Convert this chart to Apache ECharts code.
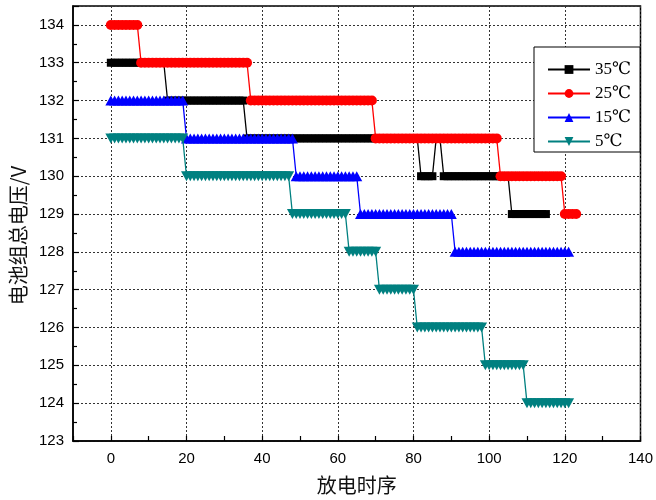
<!DOCTYPE html>
<html>
<head>
<meta charset="utf-8">
<title>电池组总电压</title>
<script src="https://cdn.jsdelivr.net/npm/echarts@6/dist/echarts.min.js"></script>
<style>
  html, body { margin: 0; padding: 0; background: #fff; }
  #chart { width: 656px; height: 500px; }
</style>
</head>
<body>
<div id="chart"></div>
<script>
// Pack voltage (V) at each discharge step, one value per step starting at step 0.
const volt35 = [
  // steps 0-14
  133,133,133,133,133,133,133,133,133,133,
  133,133,133,133,133,
  // steps 15-35
  132,132,132,132,132,132,132,132,132,132,
  132,132,132,132,132,132,132,132,132,132,
  132,
  // steps 36-81
  131,131,131,131,131,131,131,131,131,131,
  131,131,131,131,131,131,131,131,131,131,
  131,131,131,131,131,131,131,131,131,131,
  131,131,131,131,131,131,131,131,131,131,
  131,131,131,131,131,131,
  // steps 82-85
  130,130,130,130,
  // steps 86-87
  131,131,
  // steps 88-105
  130,130,130,130,130,130,130,130,130,130,
  130,130,130,130,130,130,130,130,
  // steps 106-115
  129,129,129,129,129,129,129,129,129,129
];

const volt25 = [
  // steps 0-7
  134,134,134,134,134,134,134,134,
  // steps 8-36
  133,133,133,133,133,133,133,133,133,133,
  133,133,133,133,133,133,133,133,133,133,
  133,133,133,133,133,133,133,133,133,
  // steps 37-69
  132,132,132,132,132,132,132,132,132,132,
  132,132,132,132,132,132,132,132,132,132,
  132,132,132,132,132,132,132,132,132,132,
  132,132,132,
  // steps 70-102
  131,131,131,131,131,131,131,131,131,131,
  131,131,131,131,131,131,131,131,131,131,
  131,131,131,131,131,131,131,131,131,131,
  131,131,131,
  // steps 103-119
  130,130,130,130,130,130,130,130,130,130,
  130,130,130,130,130,130,130,
  // steps 120-123
  129,129,129,129
];

const volt15 = [
  // steps 0-19
  132,132,132,132,132,132,132,132,132,132,
  132,132,132,132,132,132,132,132,132,132,
  // steps 20-48
  131,131,131,131,131,131,131,131,131,131,
  131,131,131,131,131,131,131,131,131,131,
  131,131,131,131,131,131,131,131,131,
  // steps 49-65
  130,130,130,130,130,130,130,130,130,130,
  130,130,130,130,130,130,130,
  // steps 66-90
  129,129,129,129,129,129,129,129,129,129,
  129,129,129,129,129,129,129,129,129,129,
  129,129,129,129,129,
  // steps 91-121
  128,128,128,128,128,128,128,128,128,128,
  128,128,128,128,128,128,128,128,128,128,
  128,128,128,128,128,128,128,128,128,128,
  128
];

const volt5 = [
  // steps 0-19
  131,131,131,131,131,131,131,131,131,131,
  131,131,131,131,131,131,131,131,131,131,
  // steps 20-47
  130,130,130,130,130,130,130,130,130,130,
  130,130,130,130,130,130,130,130,130,130,
  130,130,130,130,130,130,130,130,
  // steps 48-62
  129,129,129,129,129,129,129,129,129,129,
  129,129,129,129,129,
  // steps 63-70
  128,128,128,128,128,128,128,128,
  // steps 71-80
  127,127,127,127,127,127,127,127,127,127,
  // steps 81-98
  126,126,126,126,126,126,126,126,126,126,
  126,126,126,126,126,126,126,126,
  // steps 99-109
  125,125,125,125,125,125,125,125,125,125,
  125,
  // steps 110-121
  124,124,124,124,124,124,124,124,124,124,
  124,124
];

const seriesNames = ['35℃', '25℃', '15℃', '5℃'];
const xAxisTitle = '放电时序';
const yAxisTitle = '电池组总电压/V';

// pair each voltage with its discharge step
function toPoints(values) {
  return values.map((v, i) => [i, v]);
}

const chart = echarts.init(document.getElementById('chart'), null, { renderer: 'canvas' });

const lineSeries = (name, values, color, symbol, size, z, rotate) => ({
  name: name,
  type: 'line',
  data: toPoints(values),
  symbol: symbol,
  symbolSize: size,
  symbolRotate: rotate || 0,
  showAllSymbol: true,
  color: color,
  itemStyle: { color: color },
  lineStyle: { color: color, width: 1.3 },
  z: z,
  animation: false
});

chart.setOption({
  backgroundColor: '#fff',
  animation: false,
  grid: {
    left: 73, right: 13, top: 6, bottom: 57,
    show: true, borderColor: '#000', borderWidth: 1.5, backgroundColor: 'transparent'
  },
  legend: {
    orient: 'vertical',
    left: 534, top: 47,
    padding: [14, 9, 2, 13],
    itemGap: 7,
    itemWidth: 42,
    itemHeight: 11,
    borderColor: '#000',
    borderWidth: 1,
    backgroundColor: '#fff',
    data: seriesNames,
    textStyle: { fontFamily: '"Liberation Serif", "DejaVu Serif", serif', fontSize: 17, color: '#000' }
  },
  xAxis: {
    type: 'value',
    min: -10, max: 140, interval: 10,
    name: xAxisTitle,
    nameLocation: 'middle',
    nameGap: 34,
    nameTextStyle: { fontFamily: '"Noto Sans CJK SC", sans-serif', fontSize: 20, color: '#111' },
    axisLine: { show: true, onZero: false, lineStyle: { color: '#000', width: 1.5 } },
    axisTick: { show: true, inside: true, length: 5, lineStyle: { color: '#000', width: 1.2 } },
    axisLabel: {
      margin: 10,
      fontFamily: '"Liberation Sans", Arial, sans-serif', fontSize: 15, color: '#000',
      formatter: v => (v % 20 === 0 ? String(v) : '')
    },
    splitLine: {
      show: true,
      // alternate transparent / dotted so that only the labelled steps get a grid line
      lineStyle: { color: ['rgba(0,0,0,0)', '#333'], type: [2, 2], width: 1 }
    }
  },
  yAxis: {
    type: 'value',
    min: 123, max: 134.5, interval: 1,
    name: yAxisTitle,
    nameLocation: 'middle',
    nameGap: 41,
    nameTextStyle: { fontFamily: '"Noto Sans CJK SC", sans-serif', fontSize: 20, color: '#111', padding: [0, 24, 0, 0] },
    axisLine: { show: true, onZero: false, lineStyle: { color: '#000', width: 1.5 } },
    axisTick: { show: true, inside: true, length: 6, lineStyle: { color: '#000', width: 1.2 } },
    minorTick: { show: true, splitNumber: 2, length: 4, lineStyle: { color: '#000', width: 1.2 } },
    axisLabel: {
      margin: 9,
      fontFamily: '"Liberation Sans", Arial, sans-serif', fontSize: 15, color: '#000',
      formatter: v => (Number.isInteger(v) ? String(v) : '')
    },
    splitLine: { show: true, lineStyle: { color: '#333', type: [2, 2], width: 1 } }
  },
  series: [
    lineSeries(seriesNames[0], volt35, '#000000', 'rect', 8, 2),
    lineSeries(seriesNames[1], volt25, '#ff0000', 'circle', 10, 5),
    lineSeries(seriesNames[2], volt15, '#0000ff', 'triangle', [11, 10], 3),
    lineSeries(seriesNames[3], volt5, '#008080', 'triangle', [11, 10], 4, 180)
  ]
});
</script>
</body>
</html>
